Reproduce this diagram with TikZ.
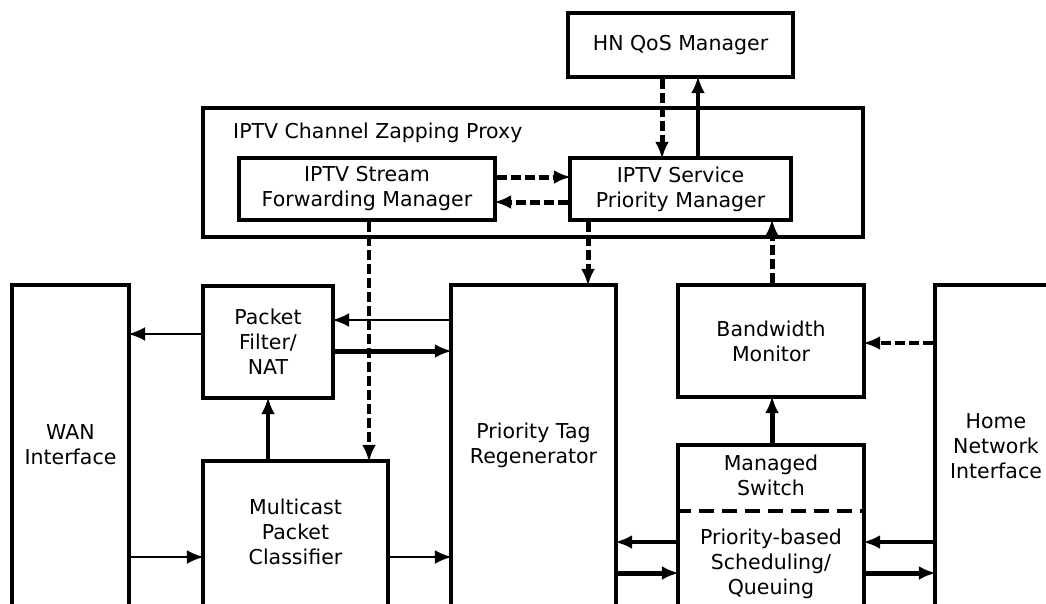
\documentclass[tikz,border=0pt]{standalone}
\usepackage{fontspec}
\setmainfont{DejaVu Sans}
\usetikzlibrary{arrows.meta}
\begin{document}
\begin{tikzpicture}[x=1pt,y=-1pt,
  box/.style={draw, line width=3.4pt, inner sep=0pt, font=\fontsize{20.5}{25}\selectfont, align=center},
  lbl/.style={font=\fontsize{20.5}{25}\selectfont, align=center, inner sep=0pt},
  tip/.style={-{Latex[length=17pt,width=14pt]}, shorten >=-2.5pt},
  thinarr/.style={tip, line width=2.6pt},
  midarr/.style={tip, line width=3.4pt},
  thickarr/.style={tip, line width=5pt},
  dsh/.style={dash pattern=on 10pt off 4pt}]
\useasboundingbox (0,0) rectangle (1046,603);
\clip (0,0) rectangle (1046,603);
\fill[white] (0,0) rectangle (1046,603);

% level coordinates
\coordinate (y320) at (0,320);
\coordinate (y334) at (0,334);
\coordinate (y351) at (0,351);
\coordinate (y557) at (0,557);
\coordinate (y177) at (0,177);
\coordinate (y202) at (0,202);
\coordinate (y343) at (0,343);
\coordinate (y542) at (0,542);
\coordinate (y573) at (0,573);
\coordinate (y511) at (0,511);
\coordinate (x369) at (369,0);
\coordinate (x588) at (588,0);
\coordinate (x662) at (662,0);
\coordinate (x698) at (698,0);
\coordinate (x772) at (772,0);

% boxes
\node[box, minimum width=225pt, minimum height=64pt] (HN) at (680.5,45) {HN QoS Manager};
\node[box, minimum width=660pt, minimum height=129pt] (PX) at (533,172.5) {};
\node[lbl, anchor=west] (PXL) at (233,133) {IPTV Channel Zapping Proxy};
\node[box, minimum width=256pt, minimum height=62pt] (SFM) at (367,189) {IPTV Stream\\Forwarding Manager};
\node[box, minimum width=221pt, minimum height=62pt] (SPM) at (680.5,189) {IPTV Service\\Priority Manager};

\node[box, minimum width=117pt, minimum height=355pt] (WAN) at (70.5,462.5) {};
\node[lbl] (WANL) at (70.5,444.5) {WAN\\Interface};
\node[box, minimum width=130pt, minimum height=112pt] (PF) at (268,342) {Packet\\Filter/\\NAT};
\node[box, minimum width=185pt, minimum height=179pt] (MPC) at (295.5,550.5) {};
\node[lbl] (MPCL) at (295.5,532) {Multicast\\Packet\\Classifier};
\node[box, minimum width=165pt, minimum height=355pt] (PTR) at (533.5,462.5) {};
\node[lbl] (PTRL) at (533.5,445) {Priority Tag\\Regenerator};
\node[box, minimum width=186pt, minimum height=112pt] (BM) at (771,341) {Bandwidth\\Monitor};
\node[box, minimum width=186pt, minimum height=195pt] (MS) at (771,542.5) {};
\node[lbl] (MSL) at (771,475) {Managed\\Switch};
\node[lbl] (PSL) at (771,564) {Priority-based\\Scheduling/\\Queuing};
\node[box, minimum width=145pt, minimum height=355pt] (HNI) at (1007.5,462.5) {};
\node[lbl] (HNIL) at (996,446) {Home\\Network\\Interface};
\draw[line width=3.4pt, dash pattern=on 15pt off 8pt] (MS.west |- y511) -- (MS.east |- y511);

% connectors
\draw[thinarr] (PTR.west |- y320) -- (PF.east |- y320);
\draw[thinarr] (PF.west |- y334) -- (WAN.east |- y334);
\draw[thickarr] (PF.east |- y351) -- (PTR.west |- y351);
\draw[midarr] (PF.south |- MPC.north) -- (PF.south);
\draw[thinarr] (WAN.east |- y557) -- (MPC.west |- y557);
\draw[thinarr] (MPC.east |- y557) -- (PTR.west |- y557);
\draw[midarr, dsh] (SFM.south -| x369) -- (MPC.north -| x369);
\draw[thickarr, dsh] (SFM.east |- y177) -- (SPM.west |- y177);
\draw[thickarr, dsh] (SPM.west |- y202) -- (SFM.east |- y202);
\draw[thickarr, dsh] (SPM.south -| x588) -- (PTR.north -| x588);
\draw[thickarr, dsh] (HN.south -| x662) -- (SPM.north -| x662);
\draw[midarr] (SPM.north -| x698) -- (HN.south -| x698);
\draw[thickarr, dsh] (BM.north -| x772) -- (SPM.south -| x772);
\draw[thickarr] (MS.north -| x772) -- (BM.south -| x772);
\draw[midarr, dsh] (HNI.west |- y343) -- (BM.east |- y343);
\draw[midarr] (MS.west |- y542) -- (PTR.east |- y542);
\draw[thickarr] (PTR.east |- y573) -- (MS.west |- y573);
\draw[midarr] (HNI.west |- y542) -- (MS.east |- y542);
\draw[thickarr] (MS.east |- y573) -- (HNI.west |- y573);
\end{tikzpicture}
\end{document}
